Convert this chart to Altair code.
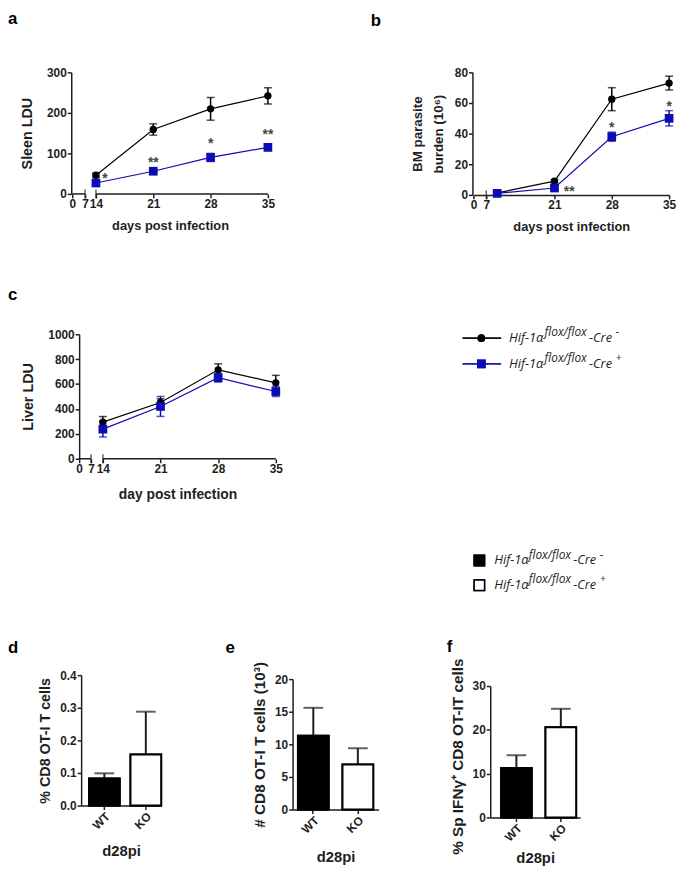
import altair as alt
import pandas as pd

# ---------------- data ----------------
days = [14, 21, 28, 35]
groups = ["Cre-", "Cre+"]

# panel a: spleen LDU
a_wt = [46, 159, 210, 242]
a_wt_sem = [5, 14, 28, 20]
a_ko = [27, 56, 90, 115]
a_ko_sem = [4, 5, 10, 8]
a_star_text = ["*", "**", "*", "**"]
a_star_day = [15.1, 21, 28, 35]
a_star_val = [46, 85, 132, 154]

# panel b: BM parasite burden (10^6)
b_wt = [1.3, 9, 62.5, 73]
b_wt_sem = [0.5, 1, 7.5, 4.5]
b_ko = [1, 4.5, 38, 50]
b_ko_sem = [0.5, 1, 3, 5]
b_star_text = ["**", "*", "*"]
b_star_day = [22.8, 28, 35]
b_star_val = [4.5, 46, 60]

# panel c: liver LDU
c_wt = [294, 452, 714, 610]
c_wt_sem = [45, 30, 48, 60]
c_ko = [238, 420, 651, 540]
c_ko_sem = [63, 80, 35, 40]

# bar panels d, e, f
bar_groups = ["WT", "KO"]
d_mean = [0.083, 0.157]
d_sem = [0.016, 0.131]
e_mean = [11.3, 6.9]
e_sem = [4.3, 2.5]
f_mean = [11.3, 20.6]
f_sem = [2.9, 4.2]

x_ticks_ac = [0, 7, 14, 21, 28, 35]
x_ticks_b = [0, 7, 21, 28, 35]
axis_segments = [(0, 7), (14, 35)]   # broken x axis (days)

# ---------------- style ----------------
FONT = "Liberation Sans"
LFONT = "Open Sans"
BLUE = "#0c0cb4"
INK = "#1e1e1e"
W, H, M = 677, 860, 8


def px(v):
    return v - M


AXIS = dict(grid=False, domainColor=INK, domainWidth=1.5, tickColor=INK, tickWidth=1.5,
            tickSize=4, labelFont=FONT, labelFontSize=12, labelFontWeight="bold",
            labelColor=INK, labelPadding=1, titleFont=FONT, titleFontSize=14,
            titleFontWeight="bold", titleColor=INK, labelFlush=False, labelOverlap=False)


def ax(**kw):
    d = dict(AXIS)
    d.update(kw)
    return alt.Axis(**d)


def line_panel(wt, wt_sem, ko, ko_sem, xdom, xrng, ydom, yrng, yax_x, xax_y,
               xvals, yvals, xtitle, ytitle, segments, breaks, stars,
               xt_size=13, xt_pad=10, yt_size=14.5, yt_pad=11, yt_lh=None):
    df = pd.DataFrame({
        "day": days + days,
        "group": [groups[0]] * len(days) + [groups[1]] * len(days),
        "mean": wt + ko,
        "sem": wt_sem + ko_sem,
    })
    df["lo"] = df["mean"] - df["sem"]
    df["hi"] = df["mean"] + df["sem"]
    xs = alt.Scale(domain=xdom, range=[px(v) for v in xrng], nice=False, zero=False)
    ys = alt.Scale(domain=ydom, range=[px(v) for v in yrng], nice=False, zero=False)
    color = alt.Color("group:N", scale=alt.Scale(domain=groups, range=["black", BLUE]), legend=None)
    X = alt.X("day:Q", scale=xs)

    ykw = dict(orient="left", offset=-px(yax_x), values=yvals, format="d", title=ytitle,
               titleFontSize=yt_size, titlePadding=yt_pad)
    if yt_lh:
        ykw["titleLineHeight"] = yt_lh
    line = alt.Chart(df).mark_line(strokeWidth=1.2).encode(
        x=alt.X("day:Q", scale=xs, axis=ax(
            orient="bottom", offset=px(xax_y) - H, values=xvals, format="d",
            title=xtitle, domain=(segments is None), titleFontSize=xt_size, titlePadding=xt_pad)),
        y=alt.Y("mean:Q", scale=ys, axis=ax(**ykw)),
        color=color, detail="group:N")
    err = alt.Chart(df).mark_rule(strokeWidth=1.5).encode(
        x=X, y=alt.Y("lo:Q", scale=ys), y2="hi:Q", color=color)
    caps = alt.Chart(df).transform_fold(["lo", "hi"], as_=["end", "v"]).mark_tick(
        orient="horizontal", size=8, thickness=1.5).encode(
        x=X, y=alt.Y("v:Q", scale=ys), color=color)
    circ = alt.Chart(df).transform_filter(alt.datum.group == groups[0]).mark_point(
        shape="circle", filled=True, size=55, opacity=1, color="black").encode(
        x=X, y=alt.Y("mean:Q", scale=ys))
    sq = alt.Chart(df).transform_filter(alt.datum.group == groups[1]).mark_point(
        shape="square", filled=True, size=78, opacity=1, color=BLUE).encode(
        x=X, y=alt.Y("mean:Q", scale=ys))
    layers = [line, err, caps, circ, sq]
    if segments is not None:
        seg = pd.DataFrame({"x0": [s[0] for s in segments], "x1": [s[1] for s in segments],
                            "y0": [ydom[0]] * len(segments)})
        layers.append(alt.Chart(seg).mark_rule(color=INK, strokeWidth=1.5).encode(
            x=alt.X("x0:Q", scale=xs), x2="x1:Q",
            y=alt.Y("y0:Q", scale=ys)))
    if breaks:
        bk = pd.DataFrame({"x": breaks, "y": [ydom[0]] * len(breaks)})
        layers.append(alt.Chart(bk).mark_tick(orient="vertical", size=9, thickness=1.5,
                                              color=INK).encode(
            x=alt.X("x:Q", scale=xs), y=alt.Y("y:Q", scale=ys)))
    if stars is not None:
        st = pd.DataFrame({"t": stars[0], "day": stars[1], "v": stars[2]})
        layers.append(alt.Chart(st).mark_text(font=FONT, fontSize=14, fontWeight="bold",
                                              color="#444", baseline="middle", dy=4).encode(
            x=X, y=alt.Y("v:Q", scale=ys), text="t:N"))
    return alt.layer(*layers)


def bar_panel(means, sems, xrng, pin, pout, align, ydom, yrng, yvals, yfmt, ytitle, yax_x, xax_y,
              yt_size=14.5, xt_pad=13, yt_center=None):
    df = pd.DataFrame({"g": bar_groups, "mean": means, "sem": sems})
    df["hi"] = df["mean"] + df["sem"]
    xs = alt.Scale(domain=bar_groups, range=[px(v) for v in xrng], paddingInner=pin,
                   paddingOuter=pout, align=align)
    ys = alt.Scale(domain=ydom, range=[px(v) for v in yrng], nice=False, zero=True)
    X = alt.X("g:N", scale=xs, sort=bar_groups)
    ykw = dict(orient="left", offset=-px(yax_x), values=yvals, format=yfmt, title=ytitle,
               titleFontSize=yt_size, titlePadding=7)
    if yt_center is not None:
        ykw["titleY"] = px(yt_center)
    bars = alt.Chart(df).mark_bar(stroke="black", strokeWidth=2).encode(
        x=alt.X("g:N", scale=xs, sort=bar_groups, axis=ax(
            orient="bottom", offset=px(xax_y) - H, labelAngle=315, title="d28pi",
            titleFontSize=15, titlePadding=xt_pad)),
        y=alt.Y("mean:Q", scale=ys, axis=ax(**ykw)),
        fill=alt.Fill("g:N", scale=alt.Scale(domain=bar_groups, range=["black", "white"]), legend=None))
    err = alt.Chart(df).mark_rule(color=INK, strokeWidth=2).encode(
        x=X, y=alt.Y("mean:Q", scale=ys), y2="hi:Q")
    cap = alt.Chart(df).mark_tick(orient="horizontal", size=20, thickness=2, color=INK).encode(
        x=X, y=alt.Y("hi:Q", scale=ys))
    return alt.layer(bars, err, bars, cap)


def text_at(t, x, y, size=13, style="italic", weight="normal", font=LFONT, color=INK, baseline="middle"):
    return alt.Chart(pd.DataFrame({"t": [t]})).mark_text(
        font=font, fontSize=size, fontStyle=style, fontWeight=weight, color=color,
        align="left", baseline=baseline).encode(text="t:N", x=alt.value(px(x)), y=alt.value(px(y)))


def legend_label(x0, y, sup_sign, widths):
    w1, w2, w3 = widths
    return [
        text_at("Hif-1α", x0, y),
        text_at("flox/flox", x0 + w1, y - 6, size=12),
        text_at("-Cre", x0 + w1 + w2, y),
        text_at(sup_sign, x0 + w1 + w2 + w3, y - 6, size=10),
    ]


panel_a = line_panel(a_wt, a_wt_sem, a_ko, a_ko_sem, [0, 7, 14, 35], [73, 86, 97, 271],
                     [0, 300], [191, 68], 72, 191, x_ticks_ac, [0, 100, 200, 300],
                     "days post infection", "Sleen LDU", axis_segments, [7, 14],
                     (a_star_text, a_star_day, a_star_val), yt_pad=12)
panel_b = line_panel(b_wt, b_wt_sem, b_ko, b_ko_sem, [0, 7, 14, 35], [479, 492, 503, 677],
                     [0, 80], [192, 68], 478, 192, x_ticks_b, [0, 20, 40, 60, 80],
                     "days post infection", ["BM parasite", "burden (10⁶)"], None, [7],
                     (b_star_text, b_star_day, b_star_val), yt_size=13.5, yt_pad=9, yt_lh=21)
panel_c = line_panel(c_wt, c_wt_sem, c_ko, c_ko_sem, [0, 7, 14, 35], [80, 92, 104, 279],
                     [0, 1000], [459, 333], 80, 459, x_ticks_ac, [0, 200, 400, 600, 800, 1000],
                     "day post infection", "Liver LDU", axis_segments, [7, 14], None,
                     xt_size=14, xt_pad=13, yt_pad=12)

panel_d = bar_panel(d_mean, d_sem, [82, 163], 0.26, 0.095, 1.0, [0, 0.4], [810, 678],
                    [0, 0.1, 0.2, 0.3, 0.4], ".1f", "% CD8 OT-I T cells", 82, 810)
panel_e = bar_panel(e_mean, e_sem, [296, 383], 0.31, 0.12, 0.5, [0, 20], [814, 682],
                    [0, 5, 10, 15, 20], "d", "# CD8 OT-I T cells (10³)", 296, 814, yt_size=15.5,
                    xt_pad=15)
panel_f = bar_panel(f_mean, f_sem, [496, 587], 0.31, 0.167, 0.73, [0, 30], [822, 689],
                    [0, 10, 20, 30], "d", "% Sp IFNγ⁺ CD8 OT-IT cells", 496, 822, yt_size=15.5,
                    xt_pad=8, yt_center=760)

# legend 1 (line chart series)
one = pd.DataFrame({"g": groups})
leg1 = [
    alt.Chart(one).mark_rule(color="black", strokeWidth=1.3).encode(
        x=alt.value(px(468)), x2=alt.value(px(507)), y=alt.value(px(337))),
    alt.Chart(one).mark_point(shape="circle", filled=True, size=60, opacity=1, color="black").encode(
        x=alt.value(px(487)), y=alt.value(px(337))),
    alt.Chart(one).mark_rule(color=BLUE, strokeWidth=1.3).encode(
        x=alt.value(px(468)), x2=alt.value(px(507)), y=alt.value(px(363))),
    alt.Chart(one).mark_point(shape="square", filled=True, size=78, opacity=1, color=BLUE).encode(
        x=alt.value(px(487)), y=alt.value(px(363))),
]
leg1 += legend_label(515, 337, "-", (36, 45, 27))
leg1 += legend_label(515, 363, "+", (36, 45, 27))

# legend 2 (bar fills)
leg2 = [
    alt.Chart(one).mark_square(size=110, fill="black", stroke="black", strokeWidth=1.5, opacity=1).encode(
        x=alt.value(px(485)), y=alt.value(px(562))),
    alt.Chart(one).mark_square(size=110, fill="white", stroke="black", strokeWidth=1.5, opacity=1).encode(
        x=alt.value(px(485)), y=alt.value(px(587))),
]
leg2 += legend_label(500, 562, "-", (35, 45, 27))
leg2 += legend_label(500, 587, "+", (35, 45, 27))


def letter(t, x, y):
    return text_at(t, x, y, size=17, style="normal", weight="bold", font=FONT,
                   color="black", baseline="alphabetic")


letters = [letter("a", 8, 19), letter("b", 375, 21), letter("c", 8, 298),
           letter("d", 8, 656), letter("e", 228, 656), letter("f", 452, 655)]

chart = alt.layer(panel_a, panel_b, panel_c, panel_d, panel_e, panel_f, *leg1, *leg2, *letters).resolve_scale(
    x="independent", y="independent"
).properties(
    width=W, height=H, padding=0, autosize=alt.AutoSizeParams(type="none")
).configure_view(stroke=None)

chart.save("out.html", embed_options={"renderer": "svg", "actions": False})
